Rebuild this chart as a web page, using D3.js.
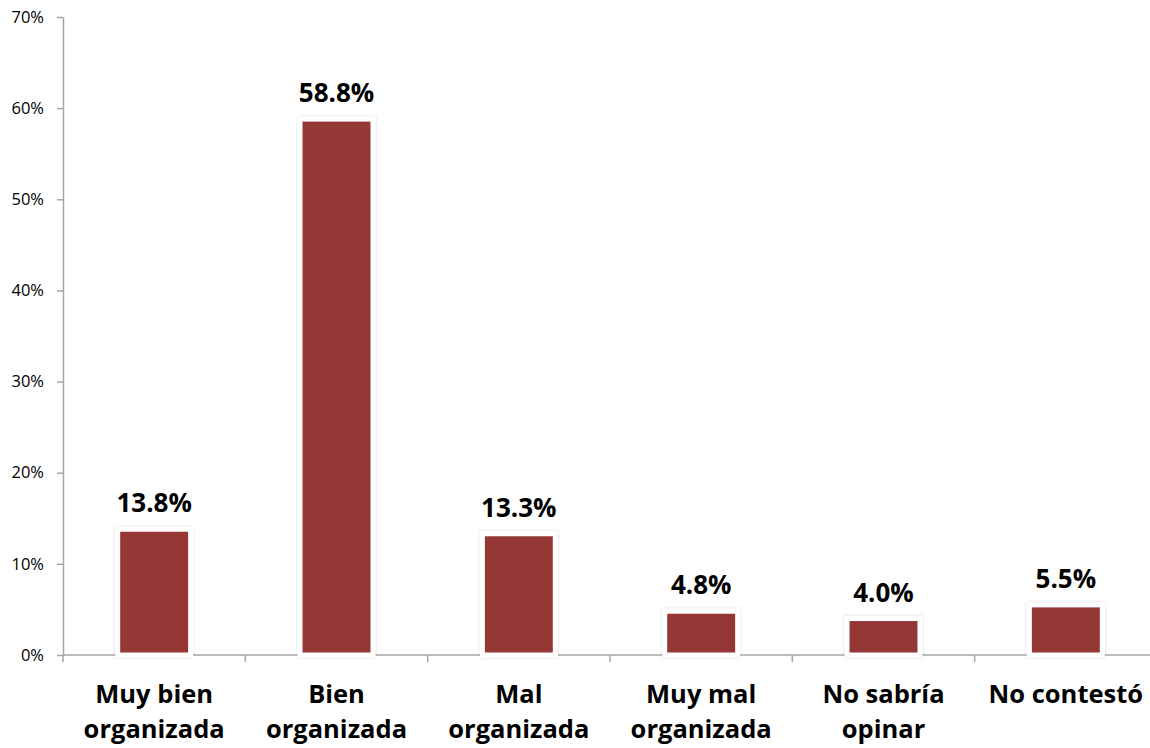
<!DOCTYPE html>
<html lang="en">
<head>
    <meta charset="UTF-8">
    <title>Organizada</title>
    <style>
        body { margin: 0; padding: 0; background: #ffffff; overflow: hidden; }
        svg { display: block; }
    </style>
</head>
<body>
    <script src="https://d3js.org/d3.v7.min.js"></script>
    <script>
        const categories = [
            ['Muy bien', 'organizada'],
            ['Bien', 'organizada'],
            ['Mal', 'organizada'],
            ['Muy mal', 'organizada'],
            ['No sabría', 'opinar'],
            ['No contestó']
        ];
        const values = [13.8, 58.8, 13.3, 4.8, 4.0, 5.5];
        const valueLabels = ['13.8%', '58.8%', '13.3%', '4.8%', '4.0%', '5.5%'];
        const yTicks = [0, 10, 20, 30, 40, 50, 60, 70];

        const width = 1150, height = 748;
        const margin = { left: 63, right: -7, top: 17, bottom: 93 };

        const svg = d3.select('body').append('svg')
            .attr('width', width)
            .attr('height', height);

        const x = d3.scaleBand()
            .domain(d3.range(values.length))
            .range([margin.left, width - margin.right])
            .paddingInner(0.6)
            .paddingOuter(0.3);

        const y = d3.scaleLinear()
            .domain([0, 70])
            .range([height - margin.bottom, margin.top]);

        const font = '"Open Sans", Lato, sans-serif';

        // y axis
        const yAxis = svg.append('g')
            .attr('transform', `translate(${margin.left},0)`)
            .call(d3.axisLeft(y).tickValues(yTicks).tickFormat(d => d + '%').tickSize(6).tickSizeOuter(0));
        yAxis.select('.domain').attr('stroke', '#a6a6a6').attr('stroke-width', 1.5);
        yAxis.selectAll('.tick line').attr('stroke', '#a6a6a6').attr('stroke-width', 1.5);
        yAxis.selectAll('.tick text')
            .attr('x', -19)
            .attr('fill', '#000')
            .style('font-family', font)
            .style('font-size', '16.5px');

        // x axis with category dividers
        const baseY = y(0);
        svg.append('line')
            .attr('x1', margin.left).attr('x2', width)
            .attr('y1', baseY).attr('y2', baseY)
            .attr('stroke', '#a6a6a6').attr('stroke-width', 1.5);
        const step = x.step();
        svg.selectAll('.divider')
            .data(d3.range(values.length))
            .enter().append('line')
            .attr('class', 'divider')
            .attr('x1', i => margin.left + step * i)
            .attr('x2', i => margin.left + step * i)
            .attr('y1', baseY).attr('y2', baseY + 7)
            .attr('stroke', '#a6a6a6').attr('stroke-width', 1.5);

        // shadow filter
        const defs = svg.append('defs');
        const f = defs.append('filter').attr('id', 'shadow')
            .attr('x', '-20%').attr('y', '-20%').attr('width', '140%').attr('height', '140%');
        f.append('feDropShadow')
            .attr('dx', 0).attr('dy', 0).attr('stdDeviation', 1.5)
            .attr('flood-color', '#000').attr('flood-opacity', 0.18);

        // bars
        svg.selectAll('.bar')
            .data(values)
            .enter().append('rect')
            .attr('class', 'bar')
            .attr('x', (d, i) => x(i))
            .attr('y', d => y(d))
            .attr('width', x.bandwidth())
            .attr('height', d => baseY - y(d))
            .attr('fill', '#953735')
            .attr('stroke', '#ffffff')
            .attr('stroke-width', 5)
            .attr('filter', 'url(#shadow)');

        // value labels
        svg.selectAll('.vlabel')
            .data(values)
            .enter().append('text')
            .attr('class', 'vlabel')
            .attr('x', (d, i) => x(i) + x.bandwidth() / 2)
            .attr('y', d => y(d) - 17)
            .attr('text-anchor', 'middle')
            .style('font-family', font)
            .style('font-weight', 'bold')
            .style('font-size', '26px')
            .text((d, i) => valueLabels[i]);

        // category labels
        const cat = svg.selectAll('.clabel')
            .data(categories)
            .enter().append('text')
            .attr('class', 'clabel')
            .attr('x', (d, i) => x(i) + x.bandwidth() / 2)
            .attr('y', 703)
            .attr('text-anchor', 'middle')
            .style('font-family', font)
            .style('font-weight', 'bold')
            .style('font-size', '25.5px');
        cat.selectAll('tspan')
            .data(d => d)
            .enter().append('tspan')
            .attr('x', function () { return this.parentNode.getAttribute('x'); })
            .attr('dy', (d, i) => i === 0 ? 0 : 35)
            .text(d => d);
    </script>
</body>
</html>
